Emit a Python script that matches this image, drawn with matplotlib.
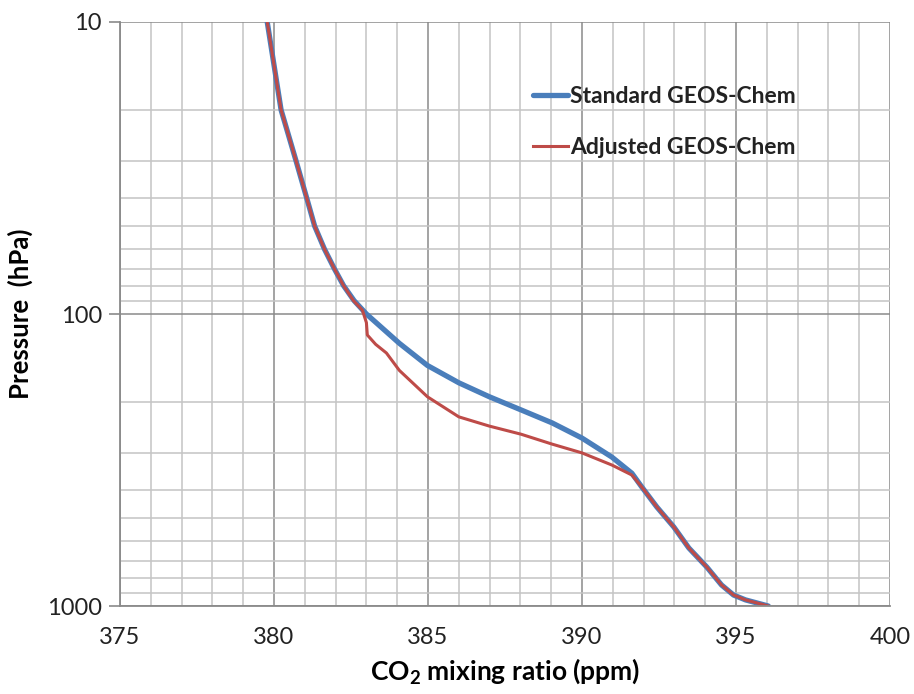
import numpy as np
import matplotlib.pyplot as plt
from matplotlib.ticker import FixedLocator, NullFormatter

plt.rcParams['font.family'] = ['Lato', 'DejaVu Sans']
plt.rcParams['mathtext.fontset'] = 'custom'
plt.rcParams['mathtext.rm'] = 'Lato:bold'
plt.rcParams['mathtext.it'] = 'Lato:bold'
plt.rcParams['mathtext.bf'] = 'Lato:bold'
plt.rcParams['mathtext.default'] = 'rm'

# pressure (hPa) and CO2 (ppm)
std_p = [10, 20, 30, 40, 50, 60, 70, 80, 90, 100, 126, 150, 172, 192, 213,
         236, 266, 309, 351, 391, 458, 536, 633, 735, 847, 917, 953, 1000]
std_co2 = [379.78, 380.23, 380.72, 381.06, 381.32, 381.64, 381.96, 382.26,
           382.6, 383.0, 384.07, 384.98, 386.0, 386.99, 388.02, 389.03,
           390.0, 390.97, 391.62, 391.94, 392.43, 392.98, 393.47, 394.05,
           394.53, 394.92, 395.31, 396.05]

adj_p = [10, 20, 30, 40, 50, 60, 70, 80, 90, 97, 107, 118, 127, 136, 156,
         192, 225, 242, 258, 279, 299, 329, 356, 391, 458, 536, 633, 735,
         847, 917, 953, 1000]
adj_co2 = [379.78, 380.23, 380.72, 381.06, 381.32, 381.64, 381.96, 382.26,
           382.58, 382.87, 383.0, 383.03, 383.3, 383.65, 384.07, 384.98,
           386.0, 386.99, 388.02, 389.03, 390.0, 390.97, 391.62, 391.94,
           392.43, 392.98, 393.47, 394.05, 394.53, 394.92, 395.31, 396.05]

labels = ['Standard GEOS-Chem', 'Adjusted GEOS-Chem']

fig = plt.figure(figsize=(9.14, 6.94), dpi=100)
ax = fig.add_axes([0.1313, 0.1268, 0.8424, 0.8415])

ax.plot(std_co2, std_p, color='#4a7ebb', lw=3.8, label=labels[0],
        solid_capstyle='round')
ax.plot(adj_co2, adj_p, color='#be4b48', lw=2.2, label=labels[1])

ax.set_yscale('log')
ax.set_ylim(1000, 10)
ax.set_xlim(375, 400)

ax.set_xticks(np.arange(375, 401, 5))
ax.xaxis.set_minor_locator(FixedLocator(np.arange(375, 401, 1)))
ax.set_yticks([10, 100, 1000])
ax.set_yticklabels(['10', '100', '1000'])
ax.yaxis.set_minor_formatter(NullFormatter())

ax.grid(which='minor', color='#c4c4c4', lw=1.1)
ax.grid(which='major', color='#8a8a8a', lw=1.1)
ax.set_axisbelow(True)

for s in ['top', 'right']:
    ax.spines[s].set_visible(False)
for s in ['left', 'bottom']:
    ax.spines[s].set_color('#8a8a8a')
    ax.spines[s].set_linewidth(1.3)

ax.tick_params(axis='x', which='both', length=0, pad=15, labelsize=17,
               labelcolor='#222222')
ax.tick_params(axis='y', which='major', length=8, width=1.2, color='#8a8a8a',
               pad=5, labelsize=17, labelcolor='#222222')
ax.tick_params(axis='y', which='minor', length=0)

ax.set_xlabel('CO$_2$ mixing ratio (ppm)', fontsize=19, fontweight='bold',
              labelpad=6)
ax.set_ylabel('Pressure  (hPa)', fontsize=18.5, fontweight='bold', labelpad=10)

leg = ax.legend(loc='upper left', bbox_to_anchor=(0.51, 0.925), frameon=False,
                fontsize=16.5, handlelength=1.5, handletextpad=0.1,
                labelspacing=1.28)
for t in leg.get_texts():
    t.set_fontweight('bold')
    t.set_color('#222222')

fig.savefig('out.png', dpi=100)
